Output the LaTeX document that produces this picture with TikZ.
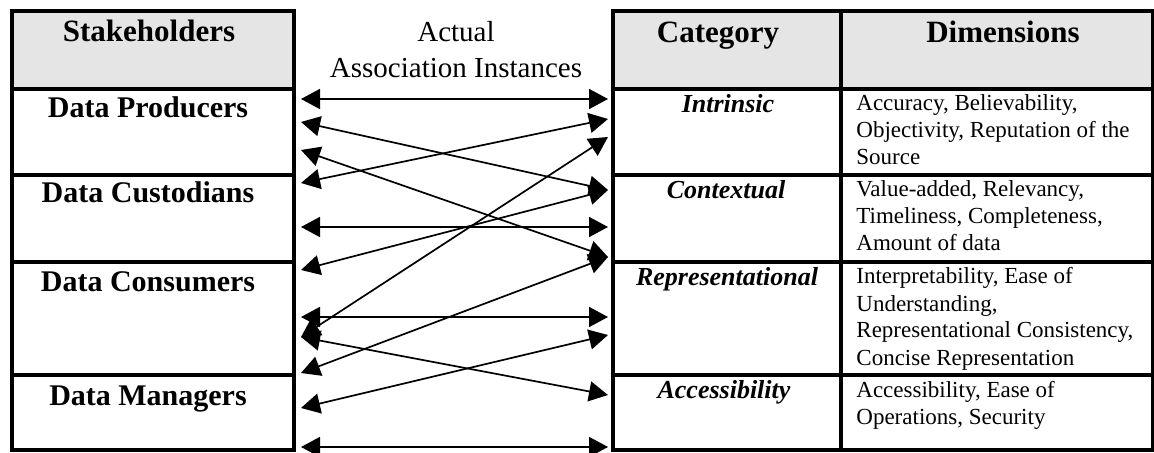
\documentclass[tikz,border=0pt]{standalone}
\usepackage{fontspec}
\setmainfont{Liberation Serif}
\usetikzlibrary{arrows.meta,positioning}

\begin{document}
\begin{tikzpicture}[x=0.5pt,y=-0.5pt]
    \tikzset{head node/.style = {anchor=base, font=\fontsize{15.5}{18}\selectfont\bfseries},
             holder node/.style = {anchor=base, font=\fontsize{15}{18}\selectfont\bfseries},
             cat node/.style = {anchor=base, font=\fontsize{13}{16}\selectfont\bfseries\itshape},
             dim node/.style = {anchor=base west, align=left, inner sep=0pt, font=\fontsize{11.5}{13.5}\selectfont},
             frame/.style = {line width=2.25pt},
             rule/.style = {line width=1.65pt},
             assoc/.style = {{Triangle[length=9.5pt,width=10pt]}-{Triangle[length=9.5pt,width=10pt]}, line width=0.85pt}}
    \useasboundingbox (0,0) rectangle (1154,453);
    %% left table
    \fill[black!10] (12,11) rectangle (294,89);
    \foreach \y in {89,175,262,375} \draw[rule] (12,\y) -- (294,\y);
    \draw[frame] (12,11) rectangle (294,450);
    \node[head node] (sh) at (149,42) {Stakeholders};
    \node[holder node] (prod) at (148,118) {Data Producers};
    \node[holder node] (cust) at (148,203) {Data Custodians};
    \node[holder node] (cons) at (148,292) {Data Consumers};
    \node[holder node] (mgr) at (148,405) {Data Managers};
    %% right table
    \fill[black!10] (613,11) rectangle (1153,89);
    \foreach \y in {89,175,262,375} \draw[rule] (613,\y) -- (1153,\y);
    \draw[rule] (841,11) -- (841,450);
    \draw[frame] (613,11) rectangle (1153,450);
    \node[head node] (cat) at (718,43) {Category};
    \node[head node] (dims) at (1003,43) {Dimensions};
    \node[cat node] (intr) at (728,113) {Intrinsic};
    \node[cat node] (ctx) at (726,199) {Contextual};
    \node[cat node] (rep) at (727,286) {Representational};
    \node[cat node] (acc) at (724,399) {Accessibility};
    % base = last line
    \node[dim node] (dintr) at (856,165) {Accuracy, Believability,\\Objectivity, Reputation of the\\Source};
    \node[dim node] (dctx) at (856,251) {Value-added, Relevancy,\\Timeliness, Completeness,\\Amount of data};
    \node[dim node] (drep) at (856,365) {Interpretability, Ease of\\Understanding,\\Representational Consistency,\\Concise Representation};
    \node[dim node] (dacc) at (856,424) {Accessibility, Ease of\\Operations, Security};
    %% middle
    \node[anchor=base, align=center, font=\fontsize{14.5}{18}\selectfont] (inst) at (456,78) {Actual\\Association Instances};
    \foreach \y [count=\i] in {99,122,150,183,227,270,317,337,373,408,447}
        \coordinate (l\i) at (301,\y);
    \foreach \y [count=\i] in {99,119,137,190,227,257,317,335,395,447}
        \coordinate (r\i) at (608,\y);
    \path[assoc]
    %FROM  to
    (l1) edge (r1)
    (l2) edge (r4)
    (l3) edge (r6)
    (l4) edge (r2)
    (l5) edge (r5)
    (l6) edge (r4)
    (l7) edge (r7)
    (l8) edge (r3)
    (l8) edge (r9)
    (l9) edge (r6)
    (l10) edge (r8)
    (l11) edge (r10);
\end{tikzpicture}
\end{document}
